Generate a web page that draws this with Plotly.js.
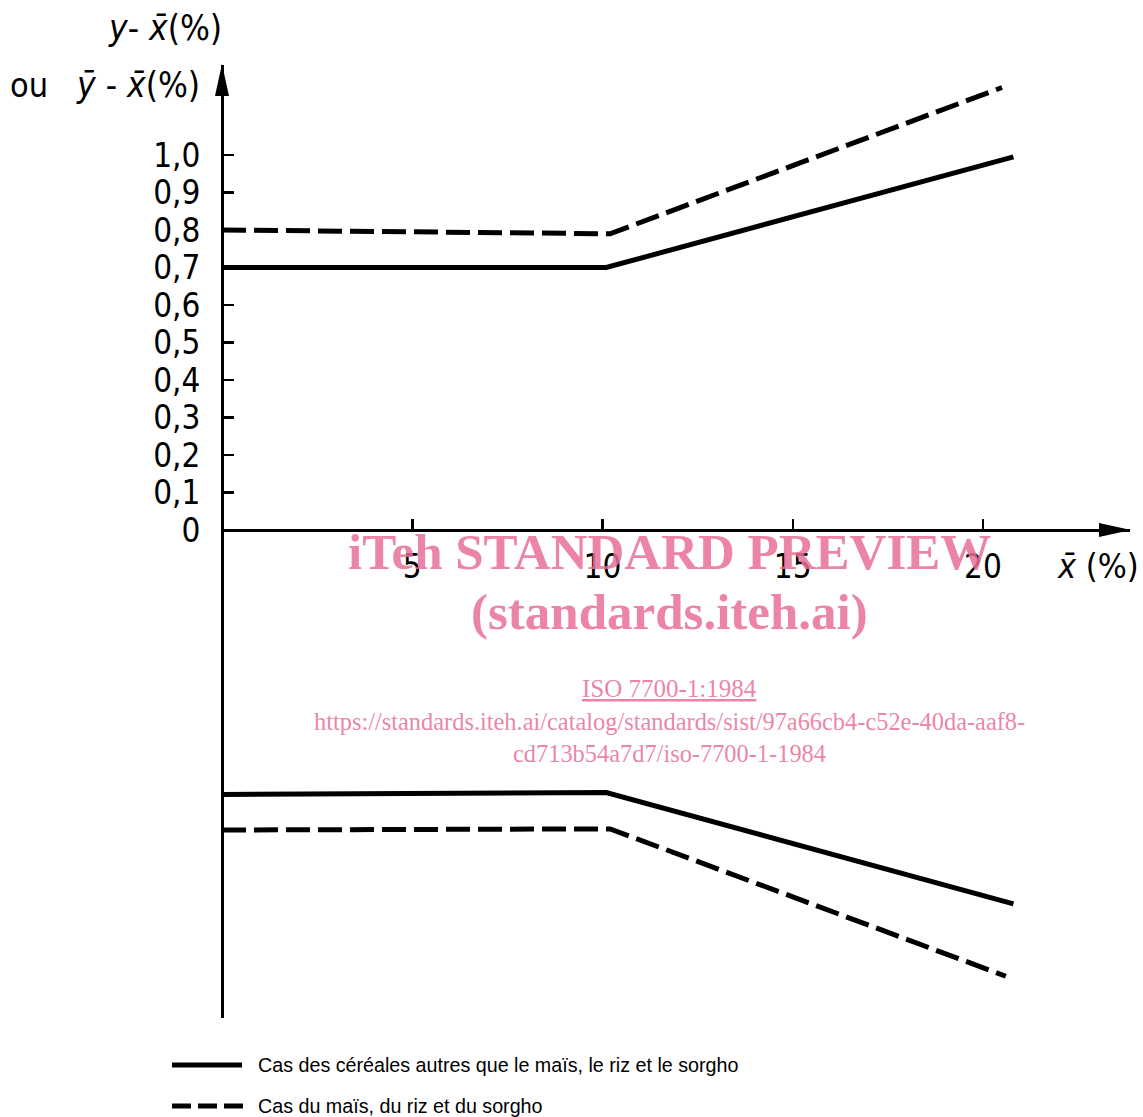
<!DOCTYPE html>
<html>
<head>
<meta charset="utf-8">
<script src="https://cdn.plot.ly/plotly-3.0.1.min.js"></script>
<style>html,body{margin:0;padding:0;background:#fff;}</style>
</head>
<body>
<div id="chart" style="width:1143px;height:1117px;"></div>
<script>
// ---- data ----
const seriesNames = [
  "Cas des céréales autres que le maïs, le riz et le sorgho",
  "Cas du maïs, du riz et du sorgho"
];
const xSolid = [0, 10.1, 20.8];
const ySolidUpper = [0.70, 0.70, 0.995];
const ySolidLower = [-0.705, -0.70, -0.997];
const xDashedUpper = [0, 10.2, 20.5];
const yDashedUpper = [0.80, 0.79, 1.18];
const xDashedLower = [0, 10.2, 20.6];
const yDashedLower = [-0.80, -0.797, -1.19];

const yTickVals = [0, 0.1, 0.2, 0.3, 0.4, 0.5, 0.6, 0.7, 0.8, 0.9, 1.0];
const yTickText = ["0", "0,1", "0,2", "0,3", "0,4", "0,5", "0,6", "0,7", "0,8", "0,9", "1,0"];
const xTickVals = [5, 10, 15, 20];
const xTickText = ["5", "10", "15", "20"];

// ---- layout geometry ----
const W = 1143, H = 1117;
const axisFont = "DejaVu Sans Condensed, DejaVu Sans, Liberation Sans, sans-serif";
const black = "#000";
const pink = "rgba(232,110,150,0.85)";
const serif = "Liberation Serif, Times New Roman, serif";

const traces = [
  {x: xSolid, y: ySolidUpper, name: seriesNames[0], legendgroup: "a", mode: "lines",
   line: {color: black, width: 5}, showlegend: false},
  {x: xSolid, y: ySolidLower, name: seriesNames[0], legendgroup: "a", mode: "lines",
   line: {color: black, width: 5}, showlegend: false},
  {x: xDashedUpper, y: yDashedUpper, name: seriesNames[1], legendgroup: "b", mode: "lines",
   line: {color: black, width: 5, dash: "24px,8px"}, showlegend: false},
  {x: xDashedLower, y: yDashedLower, name: seriesNames[1], legendgroup: "b", mode: "lines",
   line: {color: black, width: 5, dash: "24px,8px"}, showlegend: false}
];

const px2fx = p => p / W;
const px2fy = p => 1 - p / H;
const pt = (x, y) => px2fx(x).toFixed(5) + "," + px2fy(y).toFixed(5);

const layout = {
  width: W, height: H,
  margin: {l: 0, r: 0, t: 0, b: 0, pad: 0},
  paper_bgcolor: "#fff", plot_bgcolor: "rgba(0,0,0,0)",
  showlegend: false,
  xaxis: {
    domain: [px2fx(222), px2fx(1130)],
    range: [0, (1130 - 222) / 38.05],
    anchor: "free", position: px2fy(530),
    showgrid: false, zeroline: false,
    showline: true, linecolor: black, linewidth: 3,
    ticks: "inside", ticklen: 10, tickwidth: 2.5, tickcolor: black,
    tickvals: xTickVals, ticktext: xTickText,
    ticklabelstandoff: 6,
    tickfont: {family: axisFont, size: 33, color: black}
  },
  yaxis: {
    domain: [px2fy(1018), px2fy(65)],
    range: [-(1018 - 530) / 375, (530 - 65) / 375],
    anchor: "free", position: px2fx(222),
    showgrid: false, zeroline: false,
    showline: true, linecolor: black, linewidth: 3,
    ticks: "inside", ticklen: 10, tickwidth: 2.5, tickcolor: black,
    tickvals: yTickVals, ticktext: yTickText,
    ticklabelstandoff: 14,
    tickfont: {family: axisFont, size: 33, color: black}
  },
  shapes: [
    // axis arrowheads (paper coordinates)
    {type: "path", xref: "paper", yref: "paper",
     path: "M" + pt(222, 64) + " L" + pt(215, 96) + " L" + pt(229, 96) + " Z",
     fillcolor: black, line: {width: 0}},
    {type: "path", xref: "paper", yref: "paper",
     path: "M" + pt(1131, 530) + " L" + pt(1099, 523) + " L" + pt(1099, 537) + " Z",
     fillcolor: black, line: {width: 0}},
    // legend samples
    {type: "line", xref: "paper", yref: "paper",
     x0: px2fx(172), x1: px2fx(242), y0: px2fy(1065), y1: px2fy(1065),
     line: {color: black, width: 5}},
    {type: "line", xref: "paper", yref: "paper",
     x0: px2fx(172), x1: px2fx(244), y0: px2fy(1106), y1: px2fy(1106),
     line: {color: black, width: 5, dash: "19px,7px"}}
  ],
  annotations: [
    {xref: "paper", yref: "paper", x: px2fx(224), y: px2fy(28), xanchor: "right", yanchor: "middle",
     text: "<i>y</i>- <i>x\u0304</i>(%)", showarrow: false,
     font: {family: axisFont, size: 35, color: black}},
    {xref: "paper", yref: "paper", x: px2fx(8), y: px2fy(85), xanchor: "left", yanchor: "middle",
     text: "ou", showarrow: false, font: {family: axisFont, size: 34, color: black}},
    {xref: "paper", yref: "paper", x: px2fx(202), y: px2fy(85), xanchor: "right", yanchor: "middle",
     text: "<i>y\u0304</i> - <i>x\u0304</i>(%)", showarrow: false,
     font: {family: axisFont, size: 35, color: black}},
    {xref: "paper", yref: "paper", x: px2fx(1141), y: px2fy(566), xanchor: "right", yanchor: "middle",
     text: "<i>x\u0304</i> (%)", showarrow: false,
     font: {family: axisFont, size: 34, color: black}},
    // legend texts
    {xref: "paper", yref: "paper", x: px2fx(256), y: px2fy(1065), xanchor: "left", yanchor: "middle",
     text: seriesNames[0], showarrow: false,
     font: {family: "Liberation Sans, Arial, sans-serif", size: 19.7, color: black}},
    {xref: "paper", yref: "paper", x: px2fx(256), y: px2fy(1106), xanchor: "left", yanchor: "middle",
     text: seriesNames[1], showarrow: false,
     font: {family: "Liberation Sans, Arial, sans-serif", size: 19.7, color: black}},
    // watermark
    {xref: "paper", yref: "paper", x: px2fx(670), y: px2fy(552), xanchor: "center", yanchor: "middle",
     text: "<b>iTeh STANDARD PREVIEW</b>", showarrow: false,
     font: {family: serif, size: 51, color: pink}},
    {xref: "paper", yref: "paper", x: px2fx(670), y: px2fy(612), xanchor: "center", yanchor: "middle",
     text: "<b>(standards.iteh.ai)</b>", showarrow: false,
     font: {family: serif, size: 51, color: pink}},
    {xref: "paper", yref: "paper", x: px2fx(670), y: px2fy(689), xanchor: "center", yanchor: "middle",
     text: "<u>ISO 7700-1:1984</u>", showarrow: false,
     font: {family: serif, size: 25, color: pink}},
    {xref: "paper", yref: "paper", x: px2fx(670), y: px2fy(721), xanchor: "center", yanchor: "middle",
     text: "https://standards.iteh.ai/catalog/standards/sist/97a66cb4-c52e-40da-aaf8-", showarrow: false,
     font: {family: serif, size: 24.4, color: pink}},
    {xref: "paper", yref: "paper", x: px2fx(670), y: px2fy(753), xanchor: "center", yanchor: "middle",
     text: "cd713b54a7d7/iso-7700-1-1984", showarrow: false,
     font: {family: serif, size: 24.4, color: pink}}
  ]
};

Plotly.newPlot("chart", traces, layout, {displayModeBar: false, staticPlot: true});
</script>
</body>
</html>
